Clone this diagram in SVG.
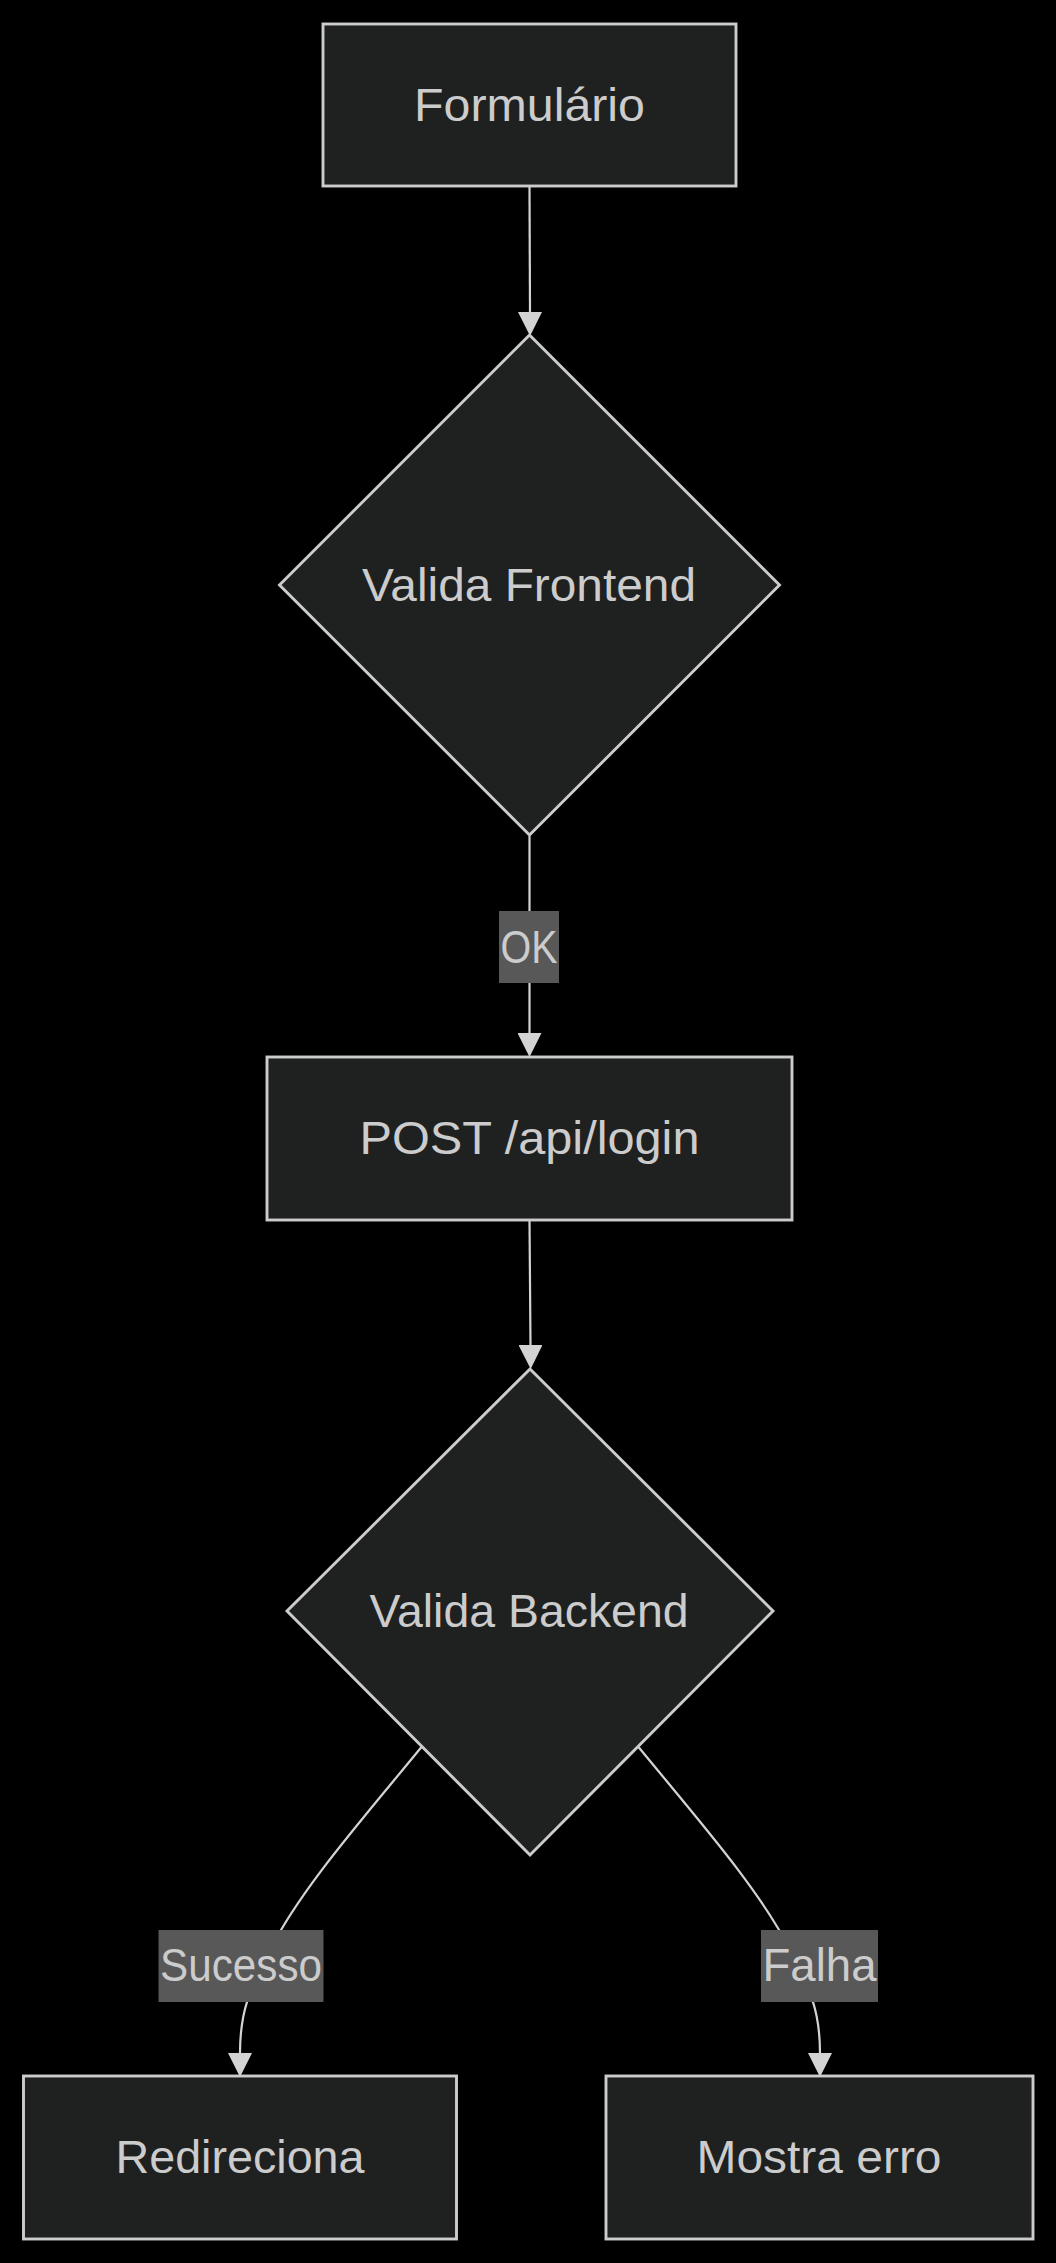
<svg xmlns="http://www.w3.org/2000/svg" width="1056" height="2263" viewBox="0 0 1056 2263">
  <style>
    .node { fill: #1f2020; stroke: #cccccc; stroke-width: 2.9; }
    .lbl { fill: #cccccc; font-family: "Liberation Sans", Arial, sans-serif; font-size: 46px; text-anchor: middle; }
    .edge { fill: none; stroke: #d3d3d3; stroke-width: 2.2; }
    .ebg { fill: #585858; }
  </style>
  <defs>
    <marker id="arrow" viewBox="0 0 10 10" refX="0" refY="5" markerUnits="userSpaceOnUse" markerWidth="24" markerHeight="24" orient="auto">
      <path d="M0,0 L10,5 L0,10 z" fill="#d3d3d3"/>
    </marker>
  </defs>
  <rect x="0" y="0" width="1056" height="2263" fill="#000000"/>

  <g id="connectors">
    <path class="edge" d="M529.5,186 L530,312" marker-end="url(#arrow)"/>
    <path class="edge" d="M529.5,836 L529.5,1033" marker-end="url(#arrow)"/>
    <path class="edge" d="M529.5,1220 L530.5,1345" marker-end="url(#arrow)"/>
    <path class="edge" d="M421.5,1747 C360,1822 300,1890 270,1950 C250,1990 240,2010 240,2053" marker-end="url(#arrow)"/>
    <path class="edge" d="M638.5,1747 C700,1822 760,1890 790,1950 C810,1990 820,2010 820,2053" marker-end="url(#arrow)"/>
    <g id="label-ok">
      <rect class="ebg" x="499" y="911" width="60" height="72"/>
      <text class="lbl" x="529" y="963" textLength="57" lengthAdjust="spacingAndGlyphs">OK</text>
    </g>
    <g id="label-sucesso">
      <rect class="ebg" x="158.5" y="1930" width="165" height="72"/>
      <text class="lbl" x="241" y="1981" textLength="162" lengthAdjust="spacingAndGlyphs">Sucesso</text>
    </g>
    <g id="label-falha">
      <rect class="ebg" x="761" y="1930" width="117" height="72"/>
      <text class="lbl" x="819.5" y="1981" textLength="114" lengthAdjust="spacingAndGlyphs">Falha</text>
    </g>
  </g>

  <g id="node-formulario">
    <rect class="node" x="323" y="24" width="413" height="162"/>
    <text class="lbl" x="529.5" y="121" textLength="231" lengthAdjust="spacingAndGlyphs">Formulário</text>
  </g>

  <g id="node-valida-frontend">
    <polygon class="node" points="529.5,335 779.5,585 529.5,835 279.5,585"/>
    <text class="lbl" x="529" y="601" textLength="334" lengthAdjust="spacingAndGlyphs">Valida Frontend</text>
  </g>

  <g id="node-post">
    <rect class="node" x="267" y="1057" width="525" height="163"/>
    <text class="lbl" x="529.5" y="1154" textLength="340" lengthAdjust="spacingAndGlyphs">POST /api/login</text>
  </g>

  <g id="node-valida-backend">
    <polygon class="node" points="530,1369 773,1611 530,1855 287,1611"/>
    <text class="lbl" x="529" y="1627" textLength="319" lengthAdjust="spacingAndGlyphs">Valida Backend</text>
  </g>

  <g id="node-redireciona">
    <rect class="node" x="23.5" y="2076" width="433" height="163"/>
    <text class="lbl" x="240" y="2173" textLength="249" lengthAdjust="spacingAndGlyphs">Redireciona</text>
  </g>

  <g id="node-mostra-erro">
    <rect class="node" x="606" y="2076" width="427" height="163"/>
    <text class="lbl" x="819" y="2173" textLength="245" lengthAdjust="spacingAndGlyphs">Mostra erro</text>
  </g>
</svg>
